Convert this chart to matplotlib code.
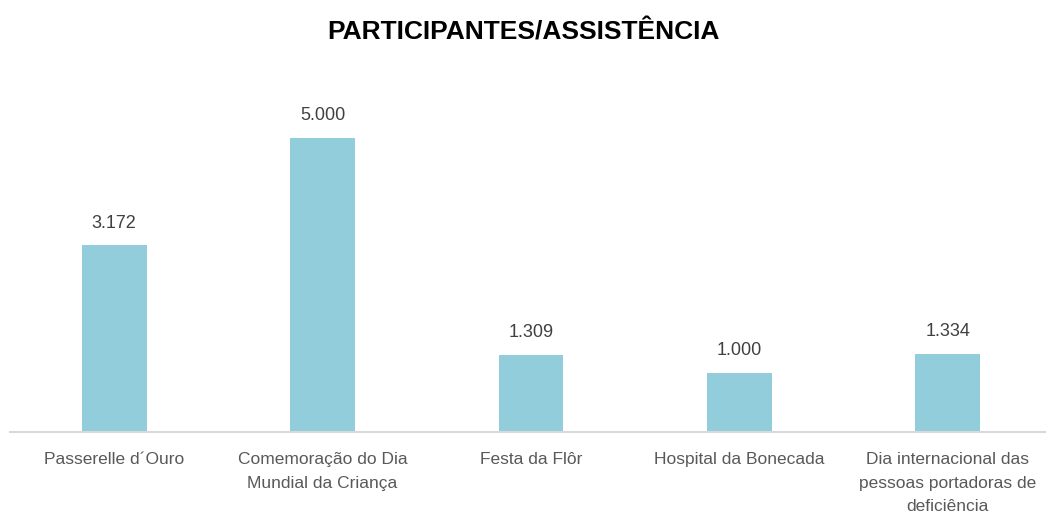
import matplotlib.pyplot as plt

# Dados
eventos = ['Passerelle d´Ouro', 'Comemoração do Dia\nMundial da Criança', 'Festa da Flôr',
           'Hospital da Bonecada', 'Dia internacional das\npessoas portadoras de\ndeficiência']
participantes = [3172, 5000, 1309, 1000, 1334]
rotulos = ['3.172', '5.000', '1.309', '1.000', '1.334']

plt.rcParams['font.family'] = ['Liberation Sans', 'DejaVu Sans']

fig = plt.figure(figsize=(10.46, 5.16), dpi=100)
ax = fig.add_axes([10/1046, 84/516, 1042/1046, 348/516])

x = range(len(eventos))
barras = ax.bar(x, participantes, width=0.31, color='#92CDDC')

for b, txt in zip(barras, rotulos):
    ax.annotate(txt, (b.get_x() + b.get_width()/2, b.get_height()),
                xytext=(0, 10), textcoords='offset points', ha='center', va='bottom',
                fontsize=13, color='#404040')

ax.set_xlim(-0.5, 4.5)
ax.set_ylim(0, 5000 * 348 / 294)
ax.set_xticks(list(x))
ax.set_xticklabels(eventos, fontsize=12.5, color='#595959', linespacing=1.72)
ax.tick_params(axis='x', length=0, pad=14.5)
ax.set_yticks([])
for s in ['top', 'right', 'left']:
    ax.spines[s].set_visible(False)
ax.spines['bottom'].set_color('#D9D9D9')
ax.spines['bottom'].set_linewidth(1.5)

fig.text(0.5, 1 - 32/516, 'PARTICIPANTES/ASSISTÊNCIA', ha='center', va='center',
         fontsize=19, fontweight='bold', color='black')

fig.savefig('out.png', dpi=100)
